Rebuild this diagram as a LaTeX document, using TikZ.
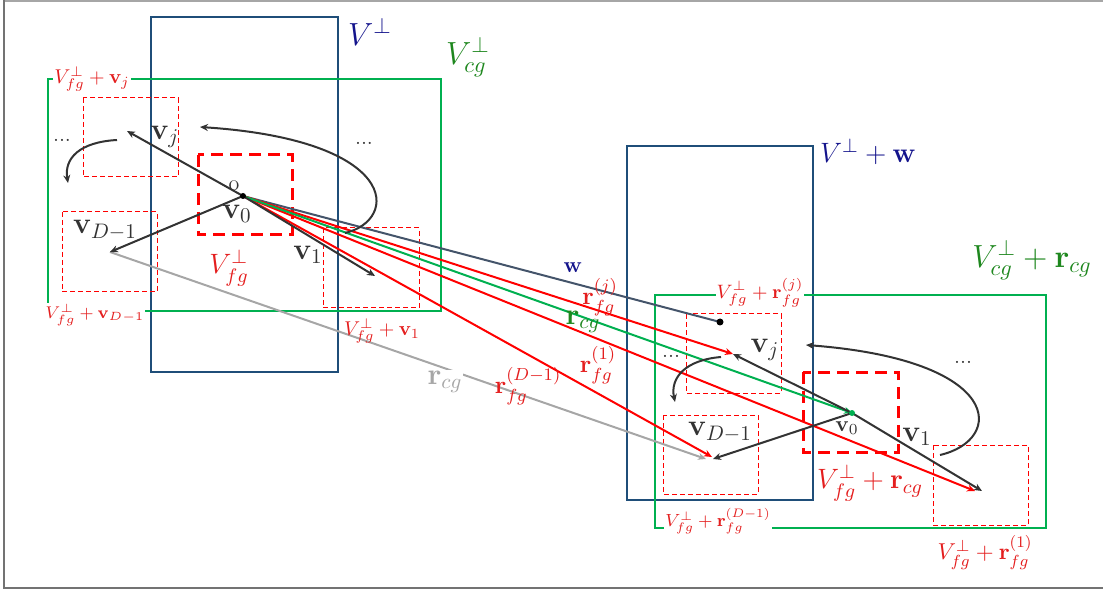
\RequirePackage{fix-cm}
\documentclass[tikz,border=0pt]{standalone}
\usepackage{amsmath}
\usetikzlibrary{arrows.meta}
\definecolor{boxblue}{RGB}{31,78,121}
\definecolor{boxgreen}{RGB}{0,176,80}
\definecolor{txtgreen}{RGB}{30,135,30}
\definecolor{txtblue}{RGB}{20,20,140}
\definecolor{txtred}{RGB}{228,30,30}
\definecolor{vecgray}{RGB}{51,51,51}
\definecolor{wslate}{RGB}{68,84,106}
\definecolor{rgray}{RGB}{166,166,166}
\newcommand\fs[1]{\fontsize{#1}{#1}\selectfont}
\tikzset{
  perpbox/.style={draw=boxblue,line width=1.2pt},
  cgbox/.style={draw=boxgreen,line width=1.3pt},
  fgbox/.style={draw=red,line width=1.5pt,dash pattern=on 6pt off 3.5pt},
  cellbox/.style={draw=red,line width=.5pt,dash pattern=on 2.5pt off 1.5pt},
  vec/.style={vecgray,line width=1pt,-{Stealth[length=4pt,width=3.5pt]}},
  rfg/.style={red,line width=1pt,-{Stealth[length=4pt,width=3.5pt]}},
  lbl/.style={inner sep=1pt},
  cut/.style={fill=white,inner sep=.5pt},
}
\begin{document}
\begin{tikzpicture}[x=.5pt,y=-.5pt]
  \useasboundingbox (0,0) rectangle (1103,593);
  \draw[gray!70,line width=.8pt] (1103,1)--(4,1); \draw[gray!110,line width=1pt] (4,0)--(4,588)--(1103,588);
  % left: subspaces round the origin
  \draw[perpbox] (151,17) rectangle (338,372);
  \draw[cgbox] (48,79) rectangle (441,311);
  \draw[fgbox] (198,155) rectangle (292,235);
  \draw[cellbox] (83,98) rectangle (178,177) (62,212) rectangle (157,292) (323,228) rectangle (419,308);
  \coordinate (o) at (243,196); \coordinate (vj) at (127,131); \coordinate (vD) at (110,252); \coordinate (v1) at (375,276);
  % right: shifted copies
  \draw[perpbox] (627,146) rectangle (813,500);
  \draw[cgbox] (655,295) rectangle (1046,528);
  \draw[fgbox] (803,372) rectangle (898,452);
  \draw[cellbox] (686,314) rectangle (781,393) (663,415) rectangle (758,494) (933,445) rectangle (1028,525);
  \coordinate (w) at (720,322); \coordinate (o') at (852,413); \coordinate (vj') at (733,354);
  \coordinate (vD') at (713,459); \coordinate (v1') at (982,491); \coordinate (r1) at (975,491);
  \coordinate (rD) at (712,457); \coordinate (gD) at (706,459);
  % long vectors
  \draw[rgray,line width=1pt,-{Stealth[length=4pt,width=3.5pt]}] (vD)--(gD);
  \draw[wslate,line width=1pt] (o)--(w);
  \draw[rfg] (o)--(vj'); \draw[rfg] (o)--(r1); \draw[rfg] (o)--(rD);
  \draw[boxgreen,line width=1pt,-{Stealth[length=4pt,width=3.5pt]}] (o)--(o');
  \draw[vec] (o)--(vj); \draw[vec] (o)--(vD); \draw[vec] (o)--(v1);
  \draw[vec] (o')--(vj'); \draw[vec] (o')--(vD'); \draw[vec] (o')--(v1');
  \draw[vec] (345,233) .. controls (400,220) and (400,140) .. (200,127);
  \draw[vec] (117,140) .. controls (80,142) and (64,158) .. (68,183);
  \draw[vec] (940,455) .. controls (1005,440) and (1005,360) .. (806,345);
  \draw[vec] (721,357) .. controls (685,360) and (670,378) .. (675,402);
  \fill (o) circle (3); \fill (w) circle (3.5); \fill[boxgreen] (o') circle (3);
  % labels
  \node[lbl,text=txtblue] at (370,32) {\fs{16}$V^{\perp}$};
  \node[lbl,text=txtgreen] at (468,57) {\fs{16}$V_{cg}^{\perp}$};
  \node[cut,text=txtred] at (92,79) {\fs{10}$V_{fg}^{\perp}+\mathbf{v}_j$};
  \node[cut,text=txtred] at (95,315) {\fs{8.5}$V_{fg}^{\perp}+\mathbf{v}_{D-1}$};
  \node[lbl,text=txtred] at (382,331) {\fs{10}$V_{fg}^{\perp}+\mathbf{v}_1$};
  \node[lbl,text=txtred] at (229,268) {\fs{14}$V_{fg}^{\perp}$};
  \node[lbl,text=vecgray] at (237,214) {\fs{15}$\mathbf{v}_0$};
  \node[lbl,text=vecgray] at (165,137) {\fs{15}$\mathbf{v}_j$};
  \node[lbl,text=vecgray] at (105,230) {\fs{15}$\mathbf{v}_{D-1}$};
  \node[lbl,text=vecgray] at (308,255) {\fs{15}$\mathbf{v}_1$};
  \node[lbl,text=vecgray] at (234,186) {\fs{11}o};
  \node[lbl,text=vecgray] at (364,143) {\fs{11}...};
  \node[lbl,text=vecgray] at (62,140) {\fs{11}...};
  \node[lbl,text=txtblue] at (573,268) {\fs{11}$\mathbf{w}$};
  \node[lbl,text=txtred] at (600,297) {\fs{12.5}$\mathbf{r}_{fg}^{(j)}$};
  \node[lbl,text=txtgreen] at (583,322) {\fs{15}$\mathbf{r}_{cg}$};
  \node[lbl,text=txtred] at (598,365) {\fs{12.5}$\mathbf{r}_{fg}^{(1)}$};
  \node[cut,text=rgray] at (445,382) {\fs{15}$\mathbf{r}_{cg}$};
  \node[lbl,text=txtred] at (528,386) {\fs{12.5}$\mathbf{r}_{fg}^{(D-1)}$};
  \node[lbl,text=txtblue] at (868,152) {\fs{14}$V^{\perp}+\mathbf{w}$};
  \node[lbl,text=txtgreen] at (1032,260) {\fs{16}$V_{cg}^{\perp}+\mathbf{r}_{cg}$};
  \node[cut,text=txtred] at (760,293) {\fs{9.7}$V_{fg}^{\perp}+\mathbf{r}_{fg}^{(j)}$};
  \node[cut,text=txtred] at (718,521) {\fs{8.8}$V_{fg}^{\perp}+\mathbf{r}_{fg}^{(D-1)}$};
  \node[lbl,text=txtred] at (870,483) {\fs{14}$V_{fg}^{\perp}+\mathbf{r}_{cg}$};
  \node[lbl,text=txtred] at (985,553) {\fs{11.5}$V_{fg}^{\perp}+\mathbf{r}_{fg}^{(1)}$};
  \node[lbl,text=vecgray] at (765,350) {\fs{15}$\mathbf{v}_j$};
  \node[lbl,text=vecgray] at (720,432) {\fs{15}$\mathbf{v}_{D-1}$};
  \node[lbl,text=vecgray] at (847,428) {\fs{11}$\mathbf{v}_0$};
  \node[lbl,text=vecgray] at (917,437) {\fs{15}$\mathbf{v}_1$};
  \node[lbl,text=vecgray] at (671,356) {\fs{11}...};
  \node[lbl,text=vecgray] at (963,362) {\fs{11}...};
\end{tikzpicture}
\end{document}
